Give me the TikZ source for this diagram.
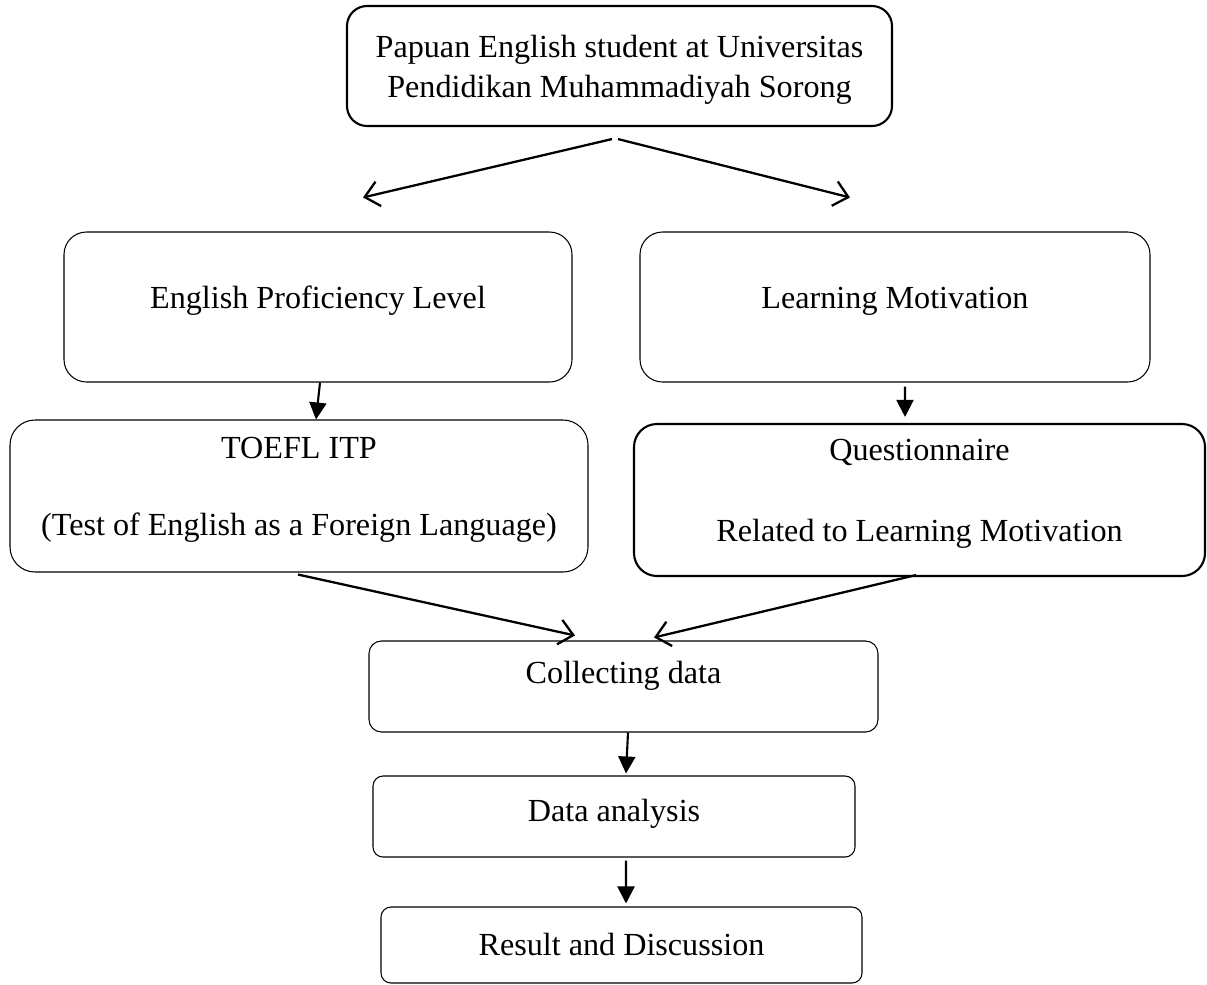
\documentclass[tikz,border=0pt]{standalone}
\usepackage{fontspec}
\setmainfont{Liberation Serif}
\usetikzlibrary{arrows.meta}

\begin{document}
\begin{tikzpicture}[
    box/.style = {draw, line width = 0.6pt, align = center, inner sep = 0pt, font = \fontsize{18.3}{22.7}\selectfont},
    thickbox/.style = {box, line width = 1.2pt},
    head/.style = {line width = 1.2pt, -{Triangle[length = 0.34cm, width = 0.34cm]}},
    barb/.style = {line width = 1.3pt, -{Straight Barb[length = 0.28cm, width = 0.5cm]}}
]
    \useasboundingbox (0,0) rectangle (24.14,-19.68);

    \node[thickbox, rounded corners = 0.4cm, minimum width = 10.9cm, minimum height = 2.4cm, text height = 1.31cm, text depth = 0.05cm] (top) at (12.39,-1.32)
    {Papuan English student at Universitas\\Pendidikan Muhammadiyah Sorong};

    \node[box, rounded corners = 0.45cm, minimum width = 10.16cm, minimum height = 3cm, text height = 0.45cm, text depth = 0.39cm] (epl) at (6.36,-6.14) {English Proficiency Level};
    \node[box, rounded corners = 0.45cm, minimum width = 10.2cm, minimum height = 3cm, text height = 0.45cm, text depth = 0.39cm] (lm) at (17.9,-6.14) {Learning Motivation};

    \node[box, rounded corners = 0.5cm, minimum width = 11.56cm, minimum height = 3.04cm, text height = 1.63cm, text depth = 0.05cm] (toefl) at (5.98,-9.92)
    {TOEFL ITP\\[21pt](Test of English as a Foreign Language)};
    \node[thickbox, rounded corners = 0.46cm, minimum width = 11.42cm, minimum height = 3.04cm, text height = 1.69cm, text depth = 0.05cm] (quest) at (18.39,-10)
    {Questionnaire\\[23pt]Related to Learning Motivation};

    \node[box, rounded corners = 0.25cm, minimum width = 10.18cm, minimum height = 1.82cm, text height = 0.45cm, text depth = 0.57cm] (collect) at (12.47,-13.73) {Collecting data};
    \node[box, rounded corners = 0.2cm, minimum width = 9.64cm, minimum height = 1.62cm, text height = 0.45cm, text depth = 0.25cm] (analysis) at (12.28,-16.33) {Data analysis};
    \node[box, rounded corners = 0.2cm, minimum width = 9.62cm, minimum height = 1.52cm, text height = 0.43cm, text depth = 0cm] (result) at (12.43,-18.9) {Result and Discussion};

    \draw[barb] ([xshift = -0.15cm, yshift = -0.24cm]top.south) -- ([xshift = 0.9cm, yshift = 0.68cm]epl.north);
    \draw[barb] ([xshift = -0.03cm, yshift = -0.24cm]top.south) -- ([xshift = -0.9cm, yshift = 0.68cm]lm.north);

    \draw[head] ([xshift = 0.04cm]epl.south) -- ([xshift = 0.34cm]toefl.north);
    \draw[head] ([xshift = 0.2cm, yshift = -0.08cm]lm.south) -- ([xshift = -0.29cm, yshift = 0.12cm]quest.north);

    \draw[barb] ([xshift = -0.02cm, yshift = -0.04cm]toefl.south) -- ([xshift = -0.97cm, yshift = 0.1cm]collect.north);
    \draw[barb] ([xshift = -0.07cm, yshift = 0.04cm]quest.south) -- ([xshift = 0.61cm, yshift = 0.06cm]collect.north);

    \draw[head] ([xshift = 0.09cm]collect.south) -- ([xshift = 0.24cm, yshift = 0.04cm]analysis.north);
    \draw[head] ([xshift = 0.24cm, yshift = -0.06cm]analysis.south) -- ([xshift = 0.09cm, yshift = 0.06cm]result.north);
\end{tikzpicture}
\end{document}
